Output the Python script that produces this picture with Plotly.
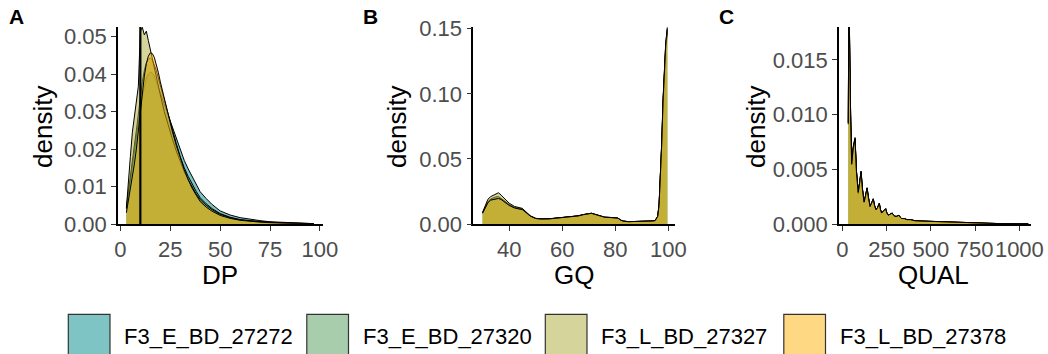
import plotly.graph_objects as go

W, H = 1048, 354

# Sample names and their fill colours (drawn at 50% opacity)
samples = ["F3_E_BD_27272", "F3_E_BD_27320", "F3_L_BD_27327", "F3_L_BD_27378"]
base_rgb = [(0, 137, 137), (81, 155, 89), (169, 169, 55), (253, 177, 7)]
fill_alpha = 0.5

# ---- Panel A: read depth (DP) densities ----
dp_x = [3, 4, 5, 6, 7, 8, 9, 10, 11, 12, 13, 14, 15, 16, 17, 18, 19, 20, 22, 24,
        26, 28, 30, 32, 34, 36, 38, 40, 43, 46, 50, 55, 60, 65, 70, 75, 80, 85, 90, 97]
dp_27272 = [0.004, 0.008, 0.011, 0.015, 0.019, 0.023, 0.027, 0.031, 0.034, 0.037,
            0.039, 0.040, 0.0405, 0.0403, 0.0395, 0.038, 0.0365, 0.035, 0.032, 0.0287,
            0.0255, 0.0225, 0.0196, 0.017, 0.0147, 0.0127, 0.0106, 0.0086, 0.0068, 0.0052,
            0.0035, 0.0024, 0.0017, 0.0012, 0.0009, 0.0006, 0.00045, 0.0003, 0.0002, 0.0001]
dp_27320 = [0.0045, 0.009, 0.0125, 0.017, 0.021, 0.025, 0.0295, 0.034, 0.038, 0.041,
            0.043, 0.044, 0.0443, 0.0438, 0.0425, 0.041, 0.039, 0.037, 0.033, 0.029,
            0.025, 0.0215, 0.018, 0.015, 0.0127, 0.0105, 0.0087, 0.007, 0.0054, 0.0041,
            0.0028, 0.0018, 0.0012, 0.0009, 0.0006, 0.00045, 0.0003, 0.0002, 0.00015, 0.0001]
dp_27327 = [0.0042, 0.0126, 0.018, 0.0245, 0.029, 0.033, 0.0368, 0.0515, 0.0525, 0.0505,
            0.0515, 0.049, 0.0465, 0.044, 0.042, 0.0395, 0.037, 0.0345, 0.030, 0.0262,
            0.0228, 0.0195, 0.0165, 0.014, 0.0118, 0.0098, 0.008, 0.0065, 0.005, 0.0038,
            0.0026, 0.0017, 0.0011, 0.0008, 0.0006, 0.0004, 0.0003, 0.0002, 0.00015, 0.0001]
dp_27378 = [0.003, 0.006, 0.009, 0.0125, 0.016, 0.020, 0.025, 0.030, 0.035, 0.0395,
            0.0428, 0.0448, 0.0457, 0.0455, 0.0445, 0.0428, 0.0405, 0.038, 0.0335, 0.029,
            0.0248, 0.021, 0.0175, 0.0145, 0.0118, 0.0095, 0.0077, 0.006, 0.0045, 0.0034,
            0.0023, 0.0015, 0.001, 0.0007, 0.0005, 0.00035, 0.00025, 0.00018, 0.00012, 0.0001]
dp_cutoff = 10

# ---- Panel B: genotype quality (GQ) densities ----
gq_x = [30, 31, 32, 33, 34, 35, 36, 37, 38, 40, 42, 44, 45, 46, 48, 50, 52, 55, 58, 60,
        63, 66, 68, 70, 71, 72, 74, 76, 78, 80, 81, 82, 83, 85, 88, 90, 92, 94, 95, 96,
        96.5, 97, 97.5, 98, 98.5, 99, 99.6]
gq_27272 = [0.0084, 0.012, 0.0165, 0.0185, 0.019, 0.0195, 0.0198, 0.019, 0.0175, 0.0145,
            0.0125, 0.0115, 0.0112, 0.0095, 0.006, 0.0042, 0.0038, 0.0039, 0.0044, 0.0048,
            0.0052, 0.0062, 0.0072, 0.0078, 0.0082, 0.0076, 0.0062, 0.0052, 0.005, 0.0049,
            0.0045, 0.003, 0.0022, 0.0018, 0.0018, 0.0019, 0.002, 0.0023, 0.0026, 0.006,
            0.015, 0.035, 0.062, 0.095, 0.12, 0.138, 0.150]
gq_27320 = [0.0086, 0.0125, 0.017, 0.0192, 0.0202, 0.0208, 0.021, 0.0198, 0.0182, 0.015,
            0.0128, 0.0118, 0.0115, 0.0097, 0.0061, 0.0043, 0.0038, 0.0039, 0.0044, 0.0048,
            0.0052, 0.0062, 0.0071, 0.0077, 0.0081, 0.0075, 0.0061, 0.0051, 0.0049, 0.0048,
            0.0044, 0.003, 0.0022, 0.0018, 0.0018, 0.0019, 0.002, 0.0023, 0.0026, 0.0059,
            0.0148, 0.0345, 0.061, 0.094, 0.119, 0.137, 0.149]
gq_27327 = [0.009, 0.0135, 0.019, 0.021, 0.022, 0.0232, 0.024, 0.0222, 0.020, 0.016,
            0.0135, 0.0125, 0.012, 0.010, 0.0063, 0.0044, 0.0039, 0.004, 0.0045, 0.0049,
            0.0053, 0.0063, 0.0073, 0.0079, 0.0083, 0.0077, 0.0063, 0.0053, 0.0051, 0.0049,
            0.0045, 0.003, 0.0022, 0.0018, 0.0018, 0.0019, 0.002, 0.0023, 0.0026, 0.0058,
            0.0145, 0.034, 0.060, 0.092, 0.117, 0.135, 0.147]
gq_27378 = [0.0082, 0.0118, 0.0163, 0.0183, 0.0188, 0.0193, 0.0196, 0.0188, 0.0173, 0.0143,
            0.0123, 0.0114, 0.011, 0.0094, 0.006, 0.0042, 0.0038, 0.0039, 0.0044, 0.0048,
            0.0052, 0.0062, 0.0072, 0.0078, 0.0082, 0.0076, 0.0062, 0.0052, 0.005, 0.0049,
            0.0045, 0.003, 0.0022, 0.0018, 0.0018, 0.0019, 0.002, 0.0023, 0.0026, 0.006,
            0.0152, 0.0355, 0.063, 0.096, 0.121, 0.139, 0.151]

# ---- Panel C: variant quality (QUAL) densities ----
qual_x = [34, 37, 40, 47, 53, 62, 67, 72, 80, 90, 98, 106, 114, 123, 131, 140, 148, 157,
          165, 175, 182, 190, 199, 209, 216, 222, 233, 245, 252, 260, 270, 282, 290, 297,
          308, 320, 328, 335, 350, 365, 385, 410, 450, 486, 550, 600, 650, 700, 800, 900,
          1000, 1050]
qual_27272 = [0.0092, 0.021, 0.018, 0.010, 0.0055, 0.0070, 0.0077, 0.0078, 0.0048, 0.0029,
              0.0038, 0.0048, 0.0032, 0.0020, 0.0026, 0.0033, 0.0024, 0.0016, 0.0019, 0.0023,
              0.0017, 0.0013, 0.0015, 0.0019, 0.0013, 0.0010, 0.0012, 0.0014, 0.0010, 0.0008,
              0.0009, 0.0010, 0.0008, 0.0007, 0.0007, 0.0008, 0.0006, 0.0005, 0.0005, 0.0004,
              0.0004, 0.0003, 0.00027, 0.00025, 0.0002, 0.00015, 0.0001, 0.00008, 0.00005,
              0.00003, 0.00002, 0.00001]
qual_27320 = [0.0093, 0.0212, 0.0182, 0.0101, 0.0056, 0.0071, 0.0078, 0.0079, 0.0049, 0.0029,
              0.0038, 0.0048, 0.0032, 0.0020, 0.0026, 0.0033, 0.0024, 0.0016, 0.0019, 0.0023,
              0.0017, 0.0013, 0.0015, 0.0019, 0.0013, 0.0010, 0.0012, 0.0014, 0.0010, 0.0008,
              0.0009, 0.0010, 0.0008, 0.0007, 0.0007, 0.0008, 0.0006, 0.0005, 0.0005, 0.0004,
              0.0004, 0.0003, 0.00026, 0.00024, 0.0002, 0.00015, 0.0001, 0.00008, 0.00005,
              0.00003, 0.00002, 0.00001]
qual_27327 = [0.0091, 0.0208, 0.0178, 0.0099, 0.0054, 0.0069, 0.0076, 0.0077, 0.0047, 0.0028,
              0.0037, 0.0047, 0.0031, 0.0020, 0.0025, 0.0032, 0.0023, 0.0016, 0.0019, 0.0022,
              0.0017, 0.0013, 0.0015, 0.0018, 0.0013, 0.0010, 0.0012, 0.0013, 0.0010, 0.0008,
              0.0009, 0.0010, 0.0008, 0.0007, 0.0007, 0.0008, 0.0006, 0.0005, 0.0005, 0.0004,
              0.0004, 0.0003, 0.00027, 0.00025, 0.0002, 0.00015, 0.0001, 0.00008, 0.00005,
              0.00003, 0.00002, 0.00001]
qual_27378 = [0.0092, 0.0211, 0.0181, 0.0100, 0.0055, 0.0070, 0.0077, 0.0078, 0.0048, 0.0029,
              0.0038, 0.0048, 0.0032, 0.0020, 0.0026, 0.0033, 0.0024, 0.0016, 0.0019, 0.0023,
              0.0017, 0.0013, 0.0015, 0.0019, 0.0013, 0.0010, 0.0012, 0.0014, 0.0010, 0.0008,
              0.0009, 0.0010, 0.0008, 0.0007, 0.0007, 0.0008, 0.0006, 0.0005, 0.0005, 0.0004,
              0.0004, 0.0003, 0.00027, 0.00025, 0.0002, 0.00015, 0.0001, 0.00008, 0.00005,
              0.00003, 0.00002, 0.00001]

panels = [
    dict(letter="A", xtitle="DP", x=dp_x, ys=[dp_27272, dp_27320, dp_27327, dp_27378],
         xpx=(118, 322.5), xrange=[-1.2, 101.3], yrange=[0, 0.0526],
         xticks=[0, 25, 50, 75, 100], xticktext=["0", "25", "50", "75", "100"],
         yticks=[0, 0.01, 0.02, 0.03, 0.04, 0.05],
         yticktext=["0.00", "0.01", "0.02", "0.03", "0.04", "0.05"],
         ytitle_x=43, xtitle_x=220, letter_x=16),
    dict(letter="B", xtitle="GQ", x=gq_x, ys=[gq_27272, gq_27320, gq_27327, gq_27378],
         xpx=(473.3, 675), xrange=[26.5, 102.5], yrange=[0, 0.1513],
         xticks=[40, 60, 80, 100], xticktext=["40", "60", "80", "100"],
         yticks=[0, 0.05, 0.10, 0.15], yticktext=["0.00", "0.05", "0.10", "0.15"],
         ytitle_x=397, xtitle_x=574, letter_x=370),
    dict(letter="C", xtitle="QUAL", x=qual_x, ys=[qual_27272, qual_27320, qual_27327, qual_27378],
         xpx=(839, 1030.7), xrange=[-18.6, 1064], yrange=[0, 0.018],
         xticks=[0, 250, 500, 750, 1000], xticktext=["0", "250", "500", "750", "1000"],
         yticks=[0, 0.005, 0.010, 0.015], yticktext=["0.000", "0.005", "0.010", "0.015"],
         ytitle_x=756, xtitle_x=933, letter_x=726),
]

PLOT_TOP, PLOT_BOTTOM = 27, 224
FONT = "Liberation Sans, Arial, sans-serif"
TICK_SIZE = 22
TITLE_SIZE = 26
LEGEND_SIZE = 22


def px_x(v):
    return v / W


def px_y(v):
    return 1 - v / H


def rgba(rgb, a):
    return f"rgba({rgb[0]},{rgb[1]},{rgb[2]},{a})"


fig = go.Figure()
annotations = []
shapes = []

for i, p in enumerate(panels, start=1):
    xa = "x" if i == 1 else f"x{i}"
    ya = "y" if i == 1 else f"y{i}"
    for name, yv, rgb in zip(samples, p["ys"], base_rgb):
        fig.add_trace(go.Scatter(
            x=p["x"], y=yv, xaxis=xa, yaxis=ya, name=name, mode="lines",
            fill="tozeroy", fillcolor=rgba(rgb, fill_alpha),
            line=dict(color="black", width=1), showlegend=False,
        ))

    axis_common = dict(
        showline=True, linecolor="black", linewidth=1.6, mirror=False,
        showgrid=False, zeroline=False, ticks="outside", ticklen=5, tickwidth=1.4,
        tickcolor="#333333", tickfont=dict(family=FONT, size=TICK_SIZE, color="#4d4d4d"),
        tickmode="array", automargin=False, tickangle=0,
    )
    fig.layout[f"xaxis{'' if i == 1 else i}"] = dict(
        axis_common, domain=[px_x(p["xpx"][0]), px_x(p["xpx"][1])], anchor=ya,
        range=p["xrange"], tickvals=p["xticks"], ticktext=p["xticktext"],
    )
    fig.layout[f"yaxis{'' if i == 1 else i}"] = dict(
        axis_common, domain=[px_y(PLOT_BOTTOM), px_y(PLOT_TOP)], anchor=xa,
        range=p["yrange"], tickvals=p["yticks"], ticktext=p["yticktext"],
    )

    annotations.append(dict(
        text="density", x=px_x(p["ytitle_x"]), y=px_y(127), xref="paper", yref="paper",
        textangle=-90, showarrow=False, xanchor="center", yanchor="middle",
        font=dict(family=FONT, size=TITLE_SIZE, color="black"),
    ))
    annotations.append(dict(
        text=p["xtitle"], x=px_x(p["xtitle_x"]), y=px_y(275), xref="paper", yref="paper",
        showarrow=False, xanchor="center", yanchor="middle",
        font=dict(family=FONT, size=TITLE_SIZE, color="black"),
    ))
    annotations.append(dict(
        text=f"<b>{p['letter']}</b>", x=px_x(p["letter_x"]), y=px_y(17), xref="paper",
        yref="paper", showarrow=False, xanchor="center", yanchor="middle",
        font=dict(family=FONT, size=21, color="black"),
    ))

# DP cut-off marker
shapes.append(dict(type="line", xref="x", yref="y domain", x0=dp_cutoff, x1=dp_cutoff,
                   y0=0, y1=1, line=dict(color="black", width=2.2), layer="above"))

# Legend along the bottom
LEG_LEFT, LEG_PITCH, KEY_W, KEY_TOP = 68.3, 238.5, 41.7, 314.3
for k, (name, rgb) in enumerate(zip(samples, base_rgb)):
    x0 = LEG_LEFT + k * LEG_PITCH
    shapes.append(dict(type="rect", xref="paper", yref="paper",
                       x0=px_x(x0), x1=px_x(x0 + KEY_W), y0=px_y(360), y1=px_y(KEY_TOP),
                       fillcolor=rgba(rgb, fill_alpha), line=dict(color="#333333", width=1.2)))
    annotations.append(dict(
        text=name, x=px_x(x0 + 54), y=px_y(336), xref="paper", yref="paper",
        showarrow=False, xanchor="left", yanchor="middle",
        font=dict(family=FONT, size=LEGEND_SIZE, color="black"),
    ))

fig.update_layout(
    width=W, height=H, margin=dict(l=0, r=0, t=0, b=0),
    paper_bgcolor="white", plot_bgcolor="white",
    annotations=annotations, shapes=shapes, showlegend=False,
)

fig.write_html("out.html")
